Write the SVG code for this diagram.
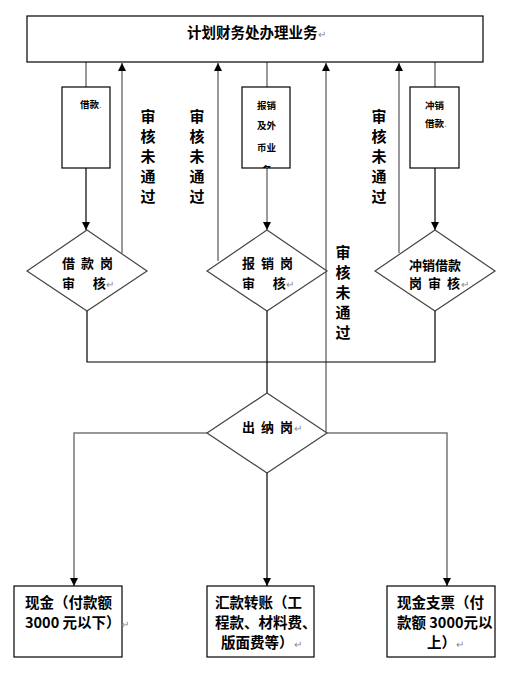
<svg xmlns="http://www.w3.org/2000/svg" width="512" height="687" viewBox="0 0 512 687">
<style>
.box{fill:#fff;stroke:#000;stroke-width:1.2}
.dia{fill:#fff;stroke:#444;stroke-width:1.2}
.ln{fill:none;stroke:#000;stroke-width:1.2}
.gl{fill:none;stroke:#777;stroke-width:1.5}
.t{font-family:"Noto Sans CJK SC","Liberation Sans",sans-serif;font-weight:bold;fill:#000}
.big{font-size:14.5px}
.mid{font-size:13px}
.sp{letter-spacing:1.5px}
.sm{font-size:9.5px}
.vt{font-size:15px;text-anchor:middle}
.pm{fill:#888;font-weight:normal;font-size:10px;letter-spacing:0}
</style>
<defs>
<marker id="ah" viewBox="0 0 8 10" refX="8" refY="5" markerWidth="8" markerHeight="10" markerUnits="userSpaceOnUse" orient="auto">
<path d="M0,1 L8,5 L0,9 Z" fill="#000"/>
</marker>
<clipPath id="c2"><rect x="242" y="87" width="48" height="81"/></clipPath>
</defs>
<rect width="512" height="687" fill="#fff"/>

<g id="connectors">
<line class="gl" x1="86" y1="62" x2="86" y2="87"/>
<line class="ln" x1="86" y1="168" x2="86" y2="230" marker-end="url(#ah)"/>
<line class="gl" x1="122" y1="253" x2="122" y2="63" marker-end="url(#ah)"/>
<line class="gl" x1="218" y1="261" x2="218" y2="63" marker-end="url(#ah)"/>
<line class="gl" x1="267" y1="62" x2="267" y2="87"/>
<line class="gl" x1="267" y1="168" x2="267" y2="230" marker-end="url(#ah)"/>
<line class="gl" x1="326" y1="433" x2="326" y2="63" marker-end="url(#ah)"/>
<line class="gl" x1="399" y1="253" x2="399" y2="63" marker-end="url(#ah)"/>
<line class="gl" x1="435" y1="62" x2="435" y2="87"/>
<line class="ln" x1="435" y1="168" x2="435" y2="230" marker-end="url(#ah)"/>
<polyline class="ln" points="87,311 87,362 435,362 435,311"/>
<line class="ln" x1="267" y1="311" x2="267" y2="393"/>
<polyline class="gl" points="207,433 74,433 74,586" marker-end="url(#ah)"/>
<polyline class="gl" points="327,433 447,433 447,586" marker-end="url(#ah)"/>
<line class="ln" x1="267" y1="473" x2="267" y2="586" marker-end="url(#ah)"/>
</g>

<g id="top">
<rect class="box" x="27" y="16" width="456" height="46"/>
<text class="t big" x="187" y="38">计划财务处办理业务<tspan class="pm">↵</tspan></text>
</g>

<g id="box-jiekuan">
<rect class="box" x="62" y="87" width="48" height="81"/>
<text class="t sm" x="80" y="108">借款<tspan class="pm" font-size="7">.</tspan></text>
</g>
<g id="box-baoxiao">
<rect class="box" x="242" y="87" width="48" height="81"/>
<g clip-path="url(#c2)">
<text class="t sm" x="257" y="109">报销</text>
<text class="t sm" x="257" y="129">及外</text>
<text class="t sm" x="257" y="151">币业</text>
<text class="t sm" x="262" y="173">务</text>
</g>
</g>
<g id="box-chongxiao">
<rect class="box" x="410" y="87" width="49" height="81"/>
<text class="t sm" x="425" y="109">冲销</text>
<text class="t sm" x="425" y="127">借款<tspan class="pm" font-size="7">.</tspan></text>
</g>

<g id="label-1" class="t vt"><text x="148" y="122">审</text><text x="148" y="142">核</text><text x="148" y="162">未</text><text x="148" y="182">通</text><text x="148" y="202">过</text></g>
<g id="label-2" class="t vt"><text x="197" y="122">审</text><text x="197" y="142">核</text><text x="197" y="162">未</text><text x="197" y="182">通</text><text x="197" y="202">过</text></g>
<g id="label-3" class="t vt"><text x="379" y="122">审</text><text x="379" y="142">核</text><text x="379" y="162">未</text><text x="379" y="182">通</text><text x="379" y="202">过</text></g>
<g id="label-4" class="t vt"><text x="343" y="258">审</text><text x="343" y="278">核</text><text x="343" y="298">未</text><text x="343" y="318">通</text><text x="343" y="338">过</text></g>

<g id="dia-jiekuan">
<polygon class="dia" points="87,230 147,271 87,311 27,271"/>
<text class="t mid sp" x="62" y="268" xml:space="preserve">借 款 岗</text>
<text class="t mid" x="62" y="288" xml:space="preserve">审      核<tspan class="pm">↵</tspan></text>
</g>
<g id="dia-baoxiao">
<polygon class="dia" points="267,230 327,271 267,311 207,271"/>
<text class="t mid sp" x="242" y="268" xml:space="preserve">报 销 岗</text>
<text class="t mid" x="242" y="288" xml:space="preserve">审      核<tspan class="pm">↵</tspan></text>
</g>
<g id="dia-chongxiao">
<polygon class="dia" points="435,230 495,271 435,311 375,271"/>
<text class="t mid" x="409" y="270">冲销借款</text>
<text class="t mid sp" x="409" y="288" xml:space="preserve">岗 审 核<tspan class="pm">↵</tspan></text>
</g>
<g id="dia-chuna">
<polygon class="dia" points="267,393 327,433 267,473 207,433"/>
<text class="t mid sp" x="242" y="432" xml:space="preserve">出 纳 岗<tspan class="pm">↵</tspan></text>
</g>

<g id="box-cash">
<rect class="box" x="14" y="586" width="108" height="71"/>
<text class="t big" x="25" y="608">现金（付款额</text>
<text class="t big" x="25" y="628">3000 元以下）<tspan class="pm">↵</tspan></text>
</g>
<g id="box-transfer">
<rect class="box" x="207" y="586" width="107" height="71"/>
<text class="t big" x="215" y="608">汇款转账（工</text>
<text class="t big" x="215" y="628">程款、材料费、</text>
<text class="t big" x="221" y="648">版面费等）<tspan class="pm">↵</tspan></text>
</g>
<g id="box-cheque">
<rect class="box" x="387" y="586" width="108" height="71"/>
<text class="t big" x="397" y="608">现金支票（付</text>
<text class="t big" x="397" y="628">款额 3000元以</text>
<text class="t big" x="427" y="648">上）<tspan class="pm">↵</tspan></text>
</g>
</svg>
